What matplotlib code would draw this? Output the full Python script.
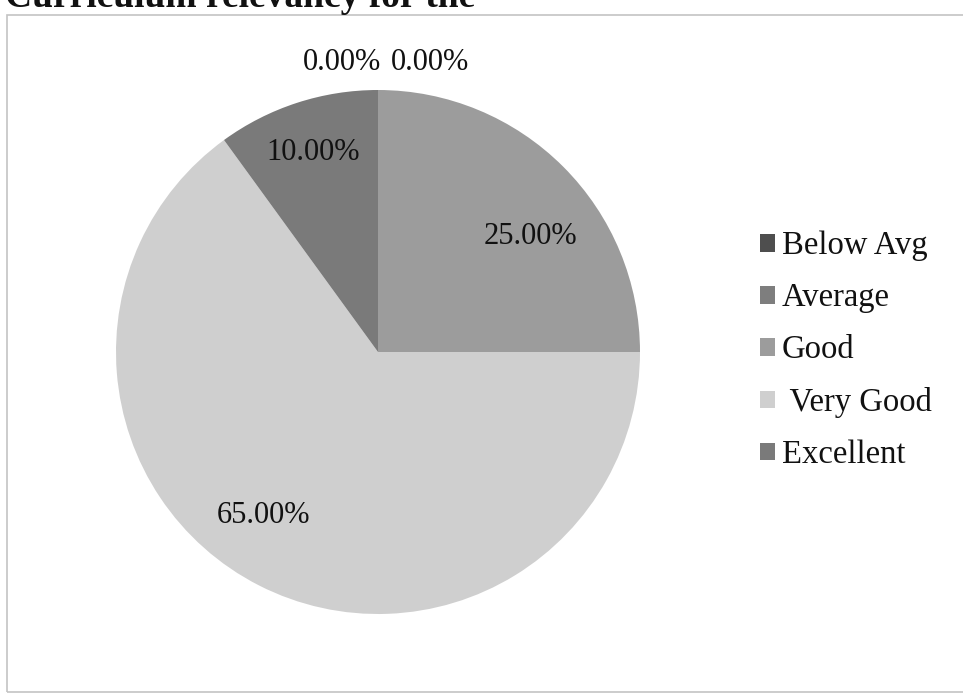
import matplotlib
matplotlib.use("Agg")
import matplotlib.pyplot as plt
from matplotlib.patches import Rectangle
import numpy as np

categories = ["Below Avg", "Average", "Good", " Very Good", "Excellent"]
values = [0.0, 0.0, 25.0, 65.0, 10.0]
colors = ["#4e4e4e", "#7e7e7e", "#9c9c9c", "#cfcfcf", "#7a7a7a"]
title = "Curriculum relevancy for the"

plt.rcParams["font.family"] = ["Liberation Serif", "DejaVu Serif"]

W, H = 963, 695
fig = plt.figure(figsize=(W / 100, H / 100), dpi=100)
fig.patch.set_facecolor("white")

# outer chart frame
fig.add_artist(Rectangle((7 / W, 1 - 692 / H), 1.0, (692 - 15) / H,
                         transform=fig.transFigure, fill=False,
                         edgecolor="#c4c4c4", linewidth=1.2))

fig.text(5 / W, 1 - 7 / H, title, fontsize=27, fontweight="bold",
         ha="left", va="baseline", color="#111111")

cx, cy, r = 378, 352, 262
ax = fig.add_axes([(cx - r) / W, (H - cy - r) / H, 2 * r / W, 2 * r / H])
wedges, _ = ax.pie(values, colors=colors, startangle=90, counterclock=False,
                   radius=1.0, wedgeprops=dict(linewidth=0))
ax.set_xlim(-1, 1)
ax.set_ylim(-1, 1)
ax.set_aspect("equal")
ax.axis("off")

# label placement (radius, angle tweak) per slice
lab_style = {
    0: (None, None),
    1: (None, None),
    2: (0.73, -8),
    3: (0.76, -8),
    4: (0.80, 0),
}
zero_pos = {0: (-0.137, 1.105), 1: (0.198, 1.105)}
for i, (w, v) in enumerate(zip(wedges, values)):
    txt = f"{v:.2f}%"
    if v == 0:
        x, y = zero_pos[i]
    else:
        rr, dth = lab_style[i]
        ang = np.deg2rad((w.theta1 + w.theta2) / 2 + dth)
        x, y = rr * np.cos(ang), rr * np.sin(ang)
    ax.text(x, y, txt, ha="center", va="center", fontsize=22,
            color="#111111", clip_on=False)

leg = fig.legend(wedges, categories, loc="center left",
                 bbox_to_anchor=(760 / W, 1 - 350.5 / H), frameon=False,
                 fontsize=23.5, handlelength=0.45, handleheight=0.45,
                 handletextpad=0.22, labelspacing=0.66, borderpad=0,
                 borderaxespad=0)
for t in leg.get_texts():
    t.set_color("#111111")

fig.savefig("out.png", dpi=100, facecolor=fig.get_facecolor())
